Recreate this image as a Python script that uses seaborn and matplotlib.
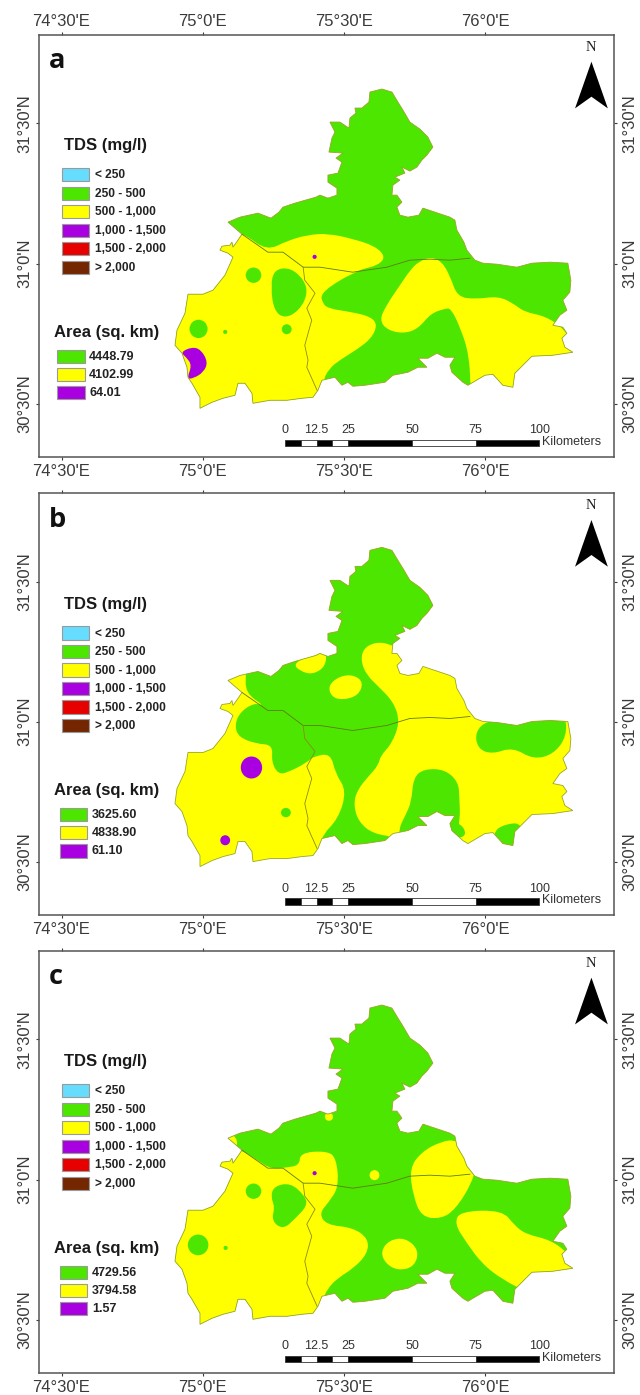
import numpy as np
import pandas as pd
import seaborn as sns
import matplotlib
matplotlib.use("Agg")
import matplotlib.pyplot as plt
from matplotlib.path import Path
from matplotlib.patches import PathPatch, Polygon, Ellipse, Rectangle

# ---------- data ----------
TDS_CLASSES = ["< 250", "250 - 500", "500 - 1,000", "1,000 - 1,500", "1,500 - 2,000", "> 2,000"]
TDS_COLORS = ["#66dcff", "#4ce600", "#ffff00", "#a800e0", "#e60000", "#732600"]
AREA_VALUES = {"a": ["4448.79", "4102.99", "64.01"],
               "b": ["3625.60", "4838.90", "61.10"],
               "c": ["4729.56", "3794.58", "1.57"]}
LON_TICKS = [74.5, 75.0, 75.5, 76.0]
LON_LABELS = ["74°30'E", "75°0'E", "75°30'E", "76°0'E"]
LAT_TICKS = [31.5, 31.0, 30.5]
LAT_LABELS = ["31°30'N", "31°0'N", "30°30'N"]
SCALE_KM = [0, 6.25, 12.5, 18.75, 25, 50, 75, 100]
SCALE_LABELS = [0, 12.5, 25, 50, 75, 100]

# district outline
OUTLINE_TRACE = [
 (370,92),(382,89),(392,92),(398,102),(403,110),(410,122),(420,129),(428,137),(433,147),(427,155),(422,160),(417,167),
 (410,171),(402,167),(405,173),(395,177),(400,180),(393,185),(392,195),(397,195),(402,202),(397,207),(400,215),(408,217),
 (419,215),(423,208),(435,212),(450,217),(455,220),(457,230),(464,242),(467,250),(475,260),(483,263),(497,264),(517,267),
 (532,263),(550,262),(568,263),(571,280),(570,292),(563,300),(567,310),(560,315),(553,325),(563,327),(567,333),(562,338),
 (565,347),(573,352),(553,355),(532,356),(523,365),(515,373),(513,387),(503,385),(493,374),(485,375),(468,385),(463,382),
 (452,372),(450,365),(455,357),(445,357),(437,353),(428,358),(418,358),(427,367),(418,367),(408,372),(393,375),(385,382),
 (365,385),(353,386),(348,382),(342,385),(335,377),(322,380),(318,390),(313,397),(302,398),(287,400),(270,400),(253,403),
 (252,393),(245,383),(238,383),(235,395),(223,398),(212,402),(200,408),(200,397),(192,383),(188,377),(187,367),(182,353),
 (175,345),(177,330),(185,313),(188,294),(203,294),(213,290),(225,275),(233,257),(228,253),(220,250),(222,246),(230,245),
 (232,242),(233,247),(238,240),(242,234),(228,222),(240,217),(258,213),(271,218),(279,212),(283,207),(295,203),(316,197),
 (320,195),(328,198),(337,195),(337,188),(328,182),(328,175),(338,173),(342,162),(336,158),(343,153),(329,152),(332,138),
 (335,132),(330,122),(340,122),(349,128),(350,118),(356,113),(355,108),(362,108),(369,102)]
OUTLINE = [(x * 2.4375, y * 3.0) for x, y in OUTLINE_TRACE]
BOUNDARY_EW = [(590,702),(653,756),(690,756),(739,801),(780,801),(860,816),(943,801),(999,780),(1048,777),(1097,780),(1146,774)]
BOUNDARY_NS = [(739,801),(743,840),(768,879),(748,924),(760,960),(743,1035),(751,1080),(748,1101),(773,1170)]

# panel a
A_YELLOW = [
 [(595,700),(650,752),(700,722),(750,704),(800,700),(860,716),(915,738),(940,770),(922,795),(880,808),(870,815),(830,838),
  (782,880),(786,908),(800,925),(860,936),(905,950),(920,975),(905,1015),(870,1048),(830,1078),(802,1105),(786,1145),(780,1300),
  (350,1300),(350,680),(500,660)],
 [(1050,770),(1078,785),(1098,830),(1115,890),(1160,897),(1215,888),(1252,910),(1278,935),(1330,948),(1375,985),(1400,1040),
  (1480,1060),(1480,1300),(1150,1300),(1148,1165),(1143,1060),(1123,985),(1100,925),(1085,925),(1050,940),(1020,985),(985,1000),
  (945,990),(925,960),(942,915),(975,855),(1000,810),(1020,785)]]
A_GREEN = [[(668,808),(708,802),(742,840),(750,882),(730,930),(695,955),(668,932),(660,860)]]
A_PURPLE = [[(440,1056),(468,1040),(490,1048),(507,1086),(496,1116),(472,1134),(455,1136),(468,1095),(454,1071)]]
A_SPOTS = [(618,825,38,46,1),(484,986,44,55,1),(699,987,24,30,1)]
A_DOTS = [(549,995,1),(767,770,3)]

# panel b
B_GREEN = [
 [(600,620),(600,180),(1120,180),(1120,520),(975,555),(950,535),(915,530),(885,550),(880,590),(895,630),(920,660),(960,710),
  (975,770),(955,835),(928,870),(922,900),(900,930),(870,975),(862,1020),(875,1070),(910,1105),(970,1115),(970,1240),(760,1240),
  (780,1115),(825,1060),(845,975),(818,925),(806,862),(760,875),(750,890),(700,922),(678,925),(662,890),(665,838),(625,835),
  (582,815),(572,780),(585,740),(620,712),(645,722),(598,682)],
 [(1008,935),(1035,910),(1085,912),(1118,950),(1120,1000),(1122,1060),(1110,1140),(975,1140),(972,1090),(988,1050),(1003,1010)],
 [(1095,1070),(1125,1075),(1138,1108),(1115,1120),(1090,1105)],
 [(1200,1100),(1232,1075),(1275,1072),(1285,1175),(1215,1175)],
 [(1158,800),(1188,764),(1240,772),(1290,772),(1340,755),(1378,745),(1382,812),(1350,866),(1300,882),(1250,845),(1200,866),(1165,850)]]
B_YELLOW = [[(800,660),(828,632),(862,628),(886,650),(874,690),(835,704),(808,694)],
 [(716,596),(745,575),(795,550),(795,602),(762,628),(730,616)]]
B_SPOTS = [(697,1041,24,28,1),(613,906,52,66,3),(549,1124,24,30,3)]

# panel c
C_YELLOW = [
 [(590,660),(630,692),(660,716),(700,712),(730,705),(732,668),(795,662),(820,682),(826,770),(802,815),(778,850),(796,884),
  (860,892),(898,925),(896,970),(862,1014),(825,1042),(798,1075),(785,1115),(780,1270),(350,1270),(350,640),(520,630)],
 [(998,715),(1028,665),(1075,634),(1115,628),(1165,690),(1150,760),(1110,838),(1075,866),(1028,860),(1008,800)],
 [(928,965),(948,930),(988,922),(1022,960),(1010,1010),(970,1021),(940,1000)],
 [(1108,880),(1122,843),(1225,840),(1254,885),(1282,912),(1345,930),(1390,975),(1410,1015),(1345,1060),(1285,1085),(1228,1050),
  (1176,1002),(1136,935)],
 [(548,600),(578,622),(578,655),(548,645)]]
C_GREEN = [[(668,768),(708,758),(742,795),(750,825),(720,865),(690,898),(662,872),(670,830),(660,800)]]
C_SPOTS = [(618,783,38,46,1),(483,944,50,62,1),(913,735,24,30,2),(802,560,20,24,2)]
C_DOTS = [(550,953,1),(767,729,3)]

# ---------- helpers ----------
sns.set_theme(style="ticks")
plt.rcParams["font.family"] = ["Liberation Sans", "DejaVu Sans"]
W, H = 640, 1395
fig = plt.figure(figsize=(W/100, H/100), dpi=100, facecolor="white")
GREY = "#3a3a3a"

def lon(x): return 74.5 + (np.asarray(x, float) - 150) / 689.0
def lat(y, y0): return 31.5 - (np.asarray(y, float) - y0) / 840.0

def top_lat(y0):
    return lat(y0 - 265, y0)

def smooth_path(pts, y0):
    pts = np.column_stack([lon([p[0] for p in pts]), lat([p[1] for p in pts], y0)])
    n = len(pts)
    verts = [(pts[-1] + pts[0]) / 2]
    codes = [Path.MOVETO]
    for i in range(n):
        verts += [pts[i], (pts[i] + pts[(i + 1) % n]) / 2]
        codes += [Path.CURVE3, Path.CURVE3]
    return Path(np.array(verts), codes)

def panel(letter, y_top_px, y0, base, shapes, spots, dots):
    left, right = 39, 614
    height = 422
    ax = fig.add_axes([left / W, 1 - (y_top_px + height) / H, (right - left) / W, height / H])
    top_crop = y0 - 265
    ax.set_xlim(lon(95), lon(1497))
    ax.set_ylim(lat(top_crop + 1265, y0), lat(top_crop, y0))
    offset = y0 - 370
    yy = lambda v: lat(v, y0)

    outline = Polygon(np.column_stack([lon([p[0] for p in OUTLINE]),
                                       lat([p[1] + offset for p in OUTLINE], y0)]),
                      closed=True, fc=TDS_COLORS[base], ec="none", zorder=1)
    ax.add_patch(outline)
    for shape, cls in shapes:
        p = PathPatch(smooth_path(shape, y0), fc=TDS_COLORS[cls], ec="none", zorder=2)
        ax.add_patch(p)
        p.set_clip_path(outline)
    for x, y, w, h, cls in spots:
        e = Ellipse((lon(x), yy(y)), w / 689.0, h / 840.0, fc=TDS_COLORS[cls], ec="none", zorder=3)
        ax.add_patch(e)
        e.set_clip_path(outline)
    if dots:
        d = pd.DataFrame({"x": lon([q[0] for q in dots]), "y": yy([q[1] for q in dots]),
                          "c": [TDS_COLORS[q[2]] for q in dots]})
        sns.scatterplot(data=d, x="x", y="y", c=d["c"], s=9, linewidth=0, ax=ax, zorder=4, legend=False)

    ax.add_patch(Polygon(outline.get_xy(), closed=True, fc="none", ec="#9aa52a", lw=0.6, zorder=5))
    for line, col in ((BOUNDARY_EW, "#5f7a12"), (BOUNDARY_NS, "#8a8a1a")):
        sns.lineplot(x=lon([p[0] for p in line]), y=lat([p[1] + offset for p in line], y0),
                     sort=False, estimator=None, color=col, lw=0.6, ax=ax, zorder=5)

    # axes
    ax.set_xlabel(""); ax.set_ylabel("")
    ax.set_xticks(LON_TICKS); ax.set_yticks(LAT_TICKS)
    ax.tick_params(top=True, right=True, bottom=True, left=True, length=2.5, width=0.8, color=GREY,
                   labelbottom=False, labeltop=False, labelleft=False, labelright=False)
    for s in ax.spines.values():
        s.set_color("#555555"); s.set_linewidth(1.1); s.set_visible(True)

    # latitude labels
    for la, lab in zip(LAT_TICKS, LAT_LABELS):
        ypx = y_top_px + (top_lat(y0) - la) * 840.0 / 3.0
        for xpx in (25, 630):
            fig.text(xpx / W, 1 - ypx / H, lab, fontsize=12, color=GREY, rotation=90, ha="center", va="center")

    # panel letter
    ax.text(lon(118), yy(top_crop + 100), letter, fontsize=19.5, fontweight="bold", family="Open Sans",
            color="#111111", va="baseline", ha="left", zorder=6)

    # north arrow
    ax.text(lon(1441), yy(top_crop + 37), "N", family="Liberation Serif", fontsize=10.5, ha="center",
            va="center", color="#222222")
    ax.add_patch(Polygon(np.column_stack([lon([1442, 1402, 1442, 1482]),
                                          yy(np.array([80, 220, 185, 220]) + top_crop)]),
                         closed=True, fc="black", ec="none", zorder=6))

    # TDS legend
    ax.text(lon(157), yy(top_crop + 332), "TDS (mg/l)", fontsize=12, fontweight="bold", color="#1a1a1a",
            va="center", ha="left")
    step = 55.4
    for i, (lab, col) in enumerate(zip(TDS_CLASSES, TDS_COLORS)):
        yc = top_crop + 419 + i * step
        ax.add_patch(Rectangle((lon(152), yy(yc + 20)), 66 / 689.0, 40 / 840.0, fc=col, ec="#9a9a9a", lw=0.8))
        ax.text(lon(232), yy(yc + 2), lab, fontsize=8.6, fontweight="bold", color="#222222",
                va="center", ha="left")

    # area legend
    ax.text(lon(131), yy(top_crop + 892), "Area (sq. km)", fontsize=12, fontweight="bold", color="#1a1a1a",
            va="center", ha="left")
    sx = 140 if letter == "a" else 147
    for i, (val, cls) in enumerate(zip(AREA_VALUES[letter], [1, 2, 3])):
        yc = top_crop + 963 + i * 54.5
        ax.add_patch(Rectangle((lon(sx), yy(yc + 20)), 66 / 689.0, 40 / 840.0, fc=TDS_COLORS[cls], ec="#9a9a9a", lw=0.8))
        ax.text(lon(sx + 77), yy(yc + 1), val, fontsize=9, fontweight="bold", color="#222222",
                va="center", ha="left")

    # scale bar
    km = np.array(SCALE_KM, float)
    sbx = lambda k: lon(694 + np.asarray(k, float) * 6.21)
    y1, y2 = yy(top_crop + 1233), yy(top_crop + 1213)
    for i in range(len(km) - 1):
        ax.add_patch(Rectangle((sbx(km[i]), y1), sbx(km[i + 1]) - sbx(km[i]), y2 - y1,
                               fc="black" if i % 2 == 0 else "white", ec="#333333", lw=0.6, zorder=6))
    for k in SCALE_LABELS:
        ax.text(sbx(k), yy(top_crop + 1185), f"{k:g}", fontsize=9, ha="center", va="center", color="#333333")
    ax.text(lon(1322), yy(top_crop + 1220), "Kilometers", fontsize=9, ha="left", va="center", color="#333333")
    return ax

ax_a = panel("a", 35, 370, 1,
             [(A_YELLOW[0], 2), (A_YELLOW[1], 2), (A_GREEN[0], 1), (A_PURPLE[0], 3)], A_SPOTS, A_DOTS)
ax_b = panel("b", 493.3, 349, 2,
             [(s, 1) for s in B_GREEN] + [(s, 2) for s in B_YELLOW], B_SPOTS, [])
ax_c = panel("c", 951, 328, 1,
             [(s, 2) for s in C_YELLOW] + [(C_GREEN[0], 1)], C_SPOTS, C_DOTS)

# longitude label rows
for ypx in (22, 472, 930, 1387):
    for lo, lab in zip(LON_TICKS, LON_LABELS):
        xpx = 39 + (lo - lon(95)) / (lon(1497) - lon(95)) * 575
        fig.text(xpx / W, 1 - ypx / H, lab, fontsize=12, color=GREY, ha="center", va="center")

fig.savefig("out.png", dpi=100, facecolor="white")
